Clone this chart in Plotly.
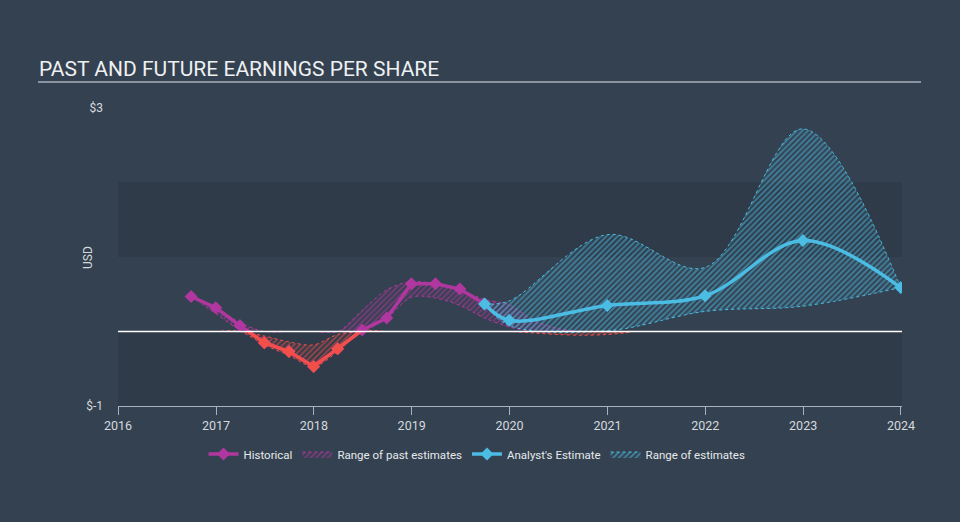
import numpy as np
import pandas as pd
import plotly.graph_objects as go

# ---------------- data ----------------
hist_dates = ["2016-09-30", "2016-12-31", "2017-03-31", "2017-06-30", "2017-09-30",
              "2017-12-31", "2018-03-31", "2018-06-30", "2018-09-30", "2018-12-31",
              "2019-03-31", "2019-06-30", "2019-09-30"]
hist_eps = [0.47, 0.32, 0.08, -0.15, -0.27, -0.47, -0.23, 0.02, 0.18, 0.64, 0.64, 0.57, 0.37]

est_dates = ["2019-09-30", "2019-12-31", "2020-12-31", "2021-12-31", "2022-12-31", "2023-12-31"]
est_eps = [0.37, 0.15, 0.35, 0.48, 1.22, 0.59]
est_high = [0.37, 0.41, 1.30, 0.86, 2.72, 0.59]
est_low = [0.37, 0.08, 0.01, 0.27, 0.34, 0.59]

past_dates = ["2016-09-30", "2016-12-31", "2017-03-31", "2017-06-30", "2017-09-30",
              "2017-12-31", "2018-03-31", "2018-06-30", "2018-09-30", "2018-12-31",
              "2019-03-31", "2019-06-30", "2019-09-30", "2019-12-31", "2020-03-31",
              "2020-06-30", "2020-09-30", "2020-12-31", "2021-03-31"]
past_high = [0.47, 0.33, 0.12, -0.06, -0.14, -0.18, -0.04, 0.28, 0.56, 0.67,
             0.64, 0.56, 0.43, 0.36, 0.15, 0.04, 0.00, -0.01, -0.01]
past_low = [0.47, 0.24, 0.03, -0.18, -0.32, -0.47, -0.27, 0.00, 0.18, 0.46,
            0.45, 0.35, 0.18, 0.06, -0.02, -0.04, -0.05, -0.04, -0.01]

x_tick_labels = ["2016", "2017", "2018", "2019", "2020", "2021", "2022", "2023", "2024"]
y_tick_vals = [-1, 3]
y_tick_text = ["$-1", "$3"]

# ---------------- style ----------------
BG = "#344150"
BAND = "#2f3b49"
MAGENTA = "#b0379f"
RED = "#f24f4a"
BLUE = "#4bbce3"
TXT = "#d5d9de"
FONT = "Roboto"

fig = go.Figure()

# ---- range of past estimates, split at zero ----
ph = np.array(past_high)
pl = np.array(past_low)
pos_hi, pos_lo = np.maximum(ph, 0), np.maximum(pl, 0)
neg_hi, neg_lo = np.minimum(ph, 0), np.minimum(pl, 0)

for lo, hi, col, fc, show in [(pos_lo, pos_hi, MAGENTA, "rgba(176,55,159,0.14)", True),
                              (neg_lo, neg_hi, RED, "rgba(242,79,74,0.28)", False)]:
    fig.add_trace(go.Scatter(
        x=past_dates, y=lo, mode="lines", showlegend=False, hoverinfo="skip",
        line=dict(color=col, width=1, dash="dot", shape="spline", smoothing=0.9)))
    fig.add_trace(go.Scatter(
        x=past_dates, y=hi, mode="lines", fill="tonexty", showlegend=show,
        name="Range of past estimates", legendrank=2, hoverinfo="skip",
        line=dict(color=col, width=1, dash="dot", shape="spline", smoothing=0.9),
        fillcolor=fc,
        fillpattern=dict(shape="/", fgcolor=col, bgcolor="rgba(0,0,0,0)",
                         size=4, solidity=0.5)))

# ---- range of estimates ----
fig.add_trace(go.Scatter(
    x=est_dates, y=est_low, mode="lines", showlegend=False, hoverinfo="skip",
    line=dict(color=BLUE, width=1, dash="dot", shape="spline", smoothing=1.0)))
fig.add_trace(go.Scatter(
    x=est_dates, y=est_high, mode="lines", fill="tonexty",
    name="Range of estimates", legendrank=4, hoverinfo="skip",
    line=dict(color=BLUE, width=1, dash="dot", shape="spline", smoothing=1.0),
    fillcolor="rgba(75,188,227,0.24)",
    fillpattern=dict(shape="/", fgcolor=BLUE, bgcolor="rgba(0,0,0,0)",
                     size=4, solidity=0.5)))

# ---- historical line (magenta, red below zero) ----
t = pd.to_datetime(hist_dates)
y = np.array(hist_eps)
xs, ys = [t[0]], [y[0]]
for i in range(1, len(y)):
    if y[i - 1] * y[i] < 0:
        f = y[i - 1] / (y[i - 1] - y[i])
        xs.append(t[i - 1] + (t[i] - t[i - 1]) * f)
        ys.append(0.0)
    xs.append(t[i])
    ys.append(y[i])
neg_line = [v if v <= 0 else None for v in ys]

fig.add_trace(go.Scatter(
    x=hist_dates, y=hist_eps, mode="lines+markers", name="Historical", legendrank=1,
    line=dict(color=MAGENTA, width=3.5),
    marker=dict(symbol="diamond", size=10, color=MAGENTA)))
fig.add_trace(go.Scatter(
    x=xs, y=neg_line, mode="lines", showlegend=False, connectgaps=False,
    line=dict(color=RED, width=3.5), hoverinfo="skip"))
neg_x = [d for d, v in zip(hist_dates, hist_eps) if v < 0]
neg_v = [v for v in hist_eps if v < 0]
fig.add_trace(go.Scatter(
    x=neg_x, y=neg_v, mode="markers", showlegend=False,
    marker=dict(symbol="diamond", size=10, color=RED)))

# ---- analyst's estimate ----
fig.add_trace(go.Scatter(
    x=est_dates, y=est_eps, mode="lines+markers", name="Analyst's Estimate", legendrank=3,
    line=dict(color=BLUE, width=3.5, shape="spline", smoothing=1.0),
    marker=dict(symbol="diamond", size=10, color=BLUE)))

# ---------------- layout ----------------
L, R, T, B = 118, 58, 108, 116
W, H = 960, 522
pw, ph_ = W - L - R, H - T - B


def px_x(p):
    return (p - L) / pw


def px_y(p):
    return (H - B - p) / ph_


shapes = [
    dict(type="rect", xref="paper", yref="y", x0=0, x1=1, y0=1, y1=2,
         fillcolor=BAND, line=dict(width=0), layer="below"),
    dict(type="rect", xref="paper", yref="y", x0=0, x1=1, y0=-1, y1=0,
         fillcolor=BAND, line=dict(width=0), layer="below"),
    dict(type="line", xref="paper", yref="y", x0=0, x1=1, y0=0, y1=0,
         line=dict(color="#ffffff", width=1.5), layer="above"),
    dict(type="line", xref="paper", yref="paper", x0=px_x(38), x1=px_x(921),
         y0=px_y(82), y1=px_y(82), line=dict(color="#a9b0b9", width=1.5)),
]

annotations = [
    dict(text="PAST AND FUTURE EARNINGS PER SHARE", xref="paper", yref="paper",
         x=px_x(37), y=px_y(69), xanchor="left", yanchor="middle", showarrow=False,
         font=dict(family=FONT, size=21, color="#eef0f2")),
    dict(text="USD", xref="paper", yref="paper", x=px_x(88), y=px_y(258),
         xanchor="center", yanchor="middle", textangle=-90, showarrow=False,
         font=dict(family=FONT, size=12, color=TXT)),
]

fig.update_layout(
    width=W, height=H,
    margin=dict(l=L, r=R, t=T, b=B, pad=0),
    paper_bgcolor=BG, plot_bgcolor=BG,
    font=dict(family=FONT, size=12, color=TXT),
    shapes=shapes, annotations=annotations,
    showlegend=True,
    legend=dict(orientation="h", x=px_x(477), xanchor="center", y=px_y(454), yanchor="middle",
                font=dict(family=FONT, size=11.5, color="#e6e9ec"),
                bgcolor="rgba(0,0,0,0)", itemwidth=30, traceorder="normal"),
    xaxis=dict(type="date", range=["2016-01-01", "2024-01-05"],
               tickvals=[f"{v}-01-01" for v in x_tick_labels], ticktext=x_tick_labels,
               showgrid=False, zeroline=False,
               showline=True, linecolor="#a8b2bd", linewidth=1,
               ticks="outside", ticklen=8, tickcolor="#a8b2bd", tickwidth=1,
               tickfont=dict(family=FONT, size=12.5, color=TXT)),
    yaxis=dict(range=[-1, 3], tickvals=y_tick_vals, ticktext=y_tick_text,
               showgrid=False, zeroline=False, showline=False, ticks="",
               ticklabelstandoff=14,
               tickfont=dict(family=FONT, size=12, color=TXT)),
)

fig.write_html("out.html")
